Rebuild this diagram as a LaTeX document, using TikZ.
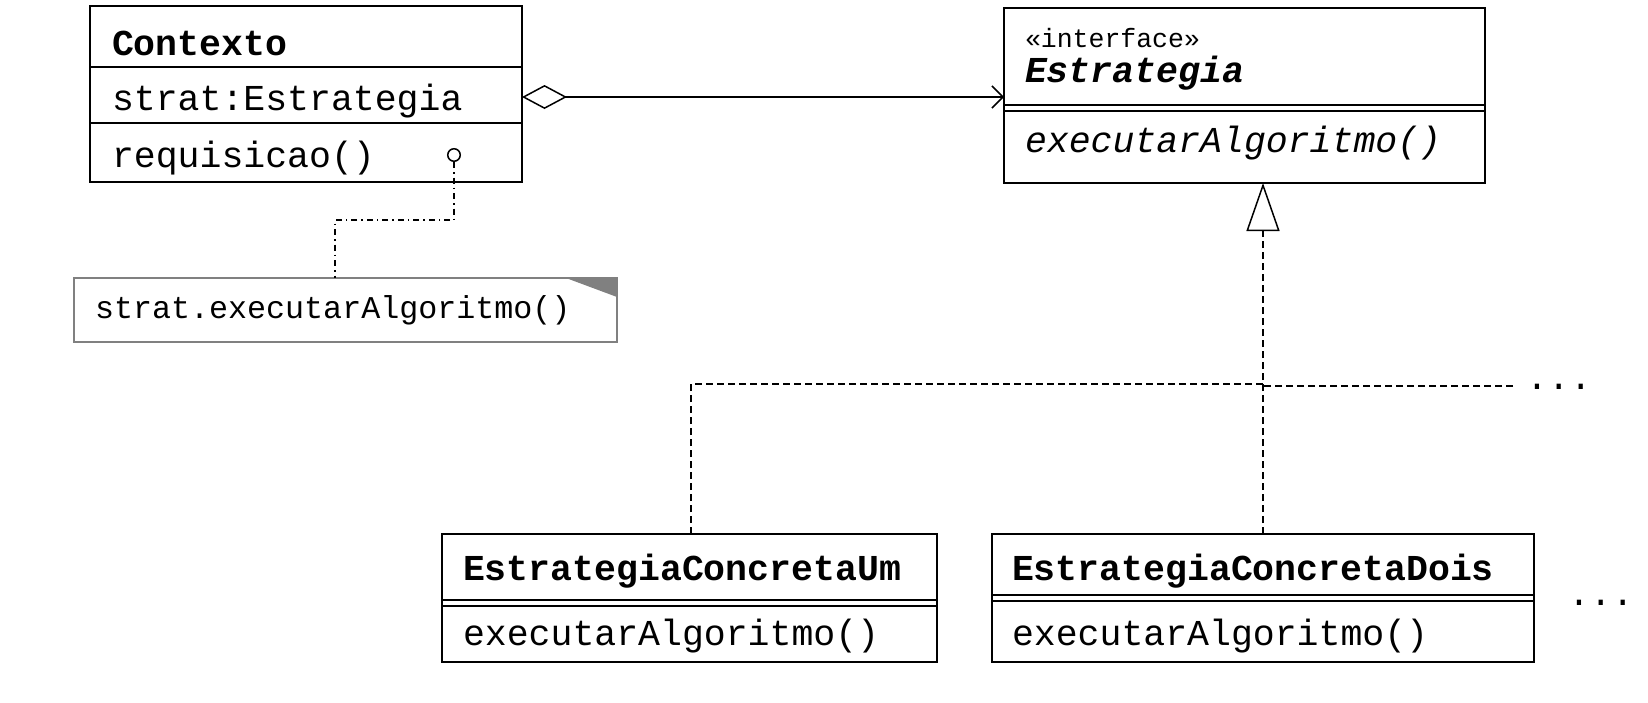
\documentclass[tikz,border=0pt]{standalone}
\usepackage{fontspec}
\setmonofont{Liberation Mono}
\usetikzlibrary{arrows.meta}
\begin{document}
\begin{tikzpicture}[x=1pt,y=-1pt,
  box/.style={draw, line width=1.8pt, inner sep=0pt, outer sep=0pt, anchor=north west},
  txt/.style={inner sep=0pt, outer sep=0pt, anchor=base west, font=\ttfamily\fontsize{36.5}{40}\selectfont},
  smalltxt/.style={inner sep=0pt, outer sep=0pt, anchor=base west, font=\ttfamily\fontsize{26.5}{30}\selectfont},
  notetxt/.style={inner sep=0pt, outer sep=0pt, anchor=base west, font=\ttfamily\fontsize{31.7}{35}\selectfont},
  sep/.style={line width=1.5pt},
  dbl/.style={line width=2.2pt},
  realize/.style={line width=1.5pt, dash pattern=on 7pt off 4pt},
  anchorline/.style={line width=1.5pt, dash pattern=on 6pt off 4pt on 1.5pt off 4pt}]
\fill[white] (0,0) rectangle (1648,702);
\useasboundingbox (0,0) rectangle (1648,702);

% Contexto
\node[box, minimum width=432pt, minimum height=176pt] (ctx) at (90,6) {};
\draw[sep] (90,67) -- (522,67);
\draw[sep] (90,123) -- (522,123);
\node[txt] (ctxname) at (112,55) {\bfseries Contexto};
\node[txt] (ctxattr) at (112,110) {strat:Estrategia};
\node[txt] (ctxop) at (112,167) {requisicao()};
\node[draw, circle, line width=1.5pt, minimum size=12.5pt, inner sep=0pt] (ctxcirc) at (454,155) {};

% Estrategia
\node[box, minimum width=481pt, minimum height=175pt] (estr) at (1004,8) {};
\draw[dbl] (1004,105) -- (1485,105);
\draw[dbl] (1004,111) -- (1485,111);
\node[smalltxt] (estrst) at (1025,47) {«interface»};
\node[txt] (estrname) at (1025,82) {\bfseries\itshape Estrategia};
\node[txt] (estrop) at (1025,152) {\itshape executarAlgoritmo()};

% Note
\node[box, draw=black!50, fill=white, line width=1.5pt, minimum width=543pt, minimum height=64pt] (note) at (74,278) {};
\fill[black!50] (566,278) -- (617,278) -- (617,297) -- cycle;
\node[notetxt] (notetext) at (95,318) {strat.executarAlgoritmo()};

% Concrete strategies
\node[box, minimum width=495pt, minimum height=128pt] (um) at (442,534) {};
\draw[dbl] (442,600) -- (937,600);
\draw[dbl] (442,606) -- (937,606);
\node[txt] (umname) at (463,580) {\bfseries EstrategiaConcretaUm};
\node[txt] (umop) at (463,645) {executarAlgoritmo()};

\node[box, minimum width=542pt, minimum height=128pt] (dois) at (992,534) {};
\draw[dbl] (992,595) -- (1534,595);
\draw[dbl] (992,601) -- (1534,601);
\node[txt] (doisname) at (1012,580) {\bfseries EstrategiaConcretaDois};
\node[txt] (doisop) at (1012,645) {executarAlgoritmo()};

\node[txt] (dotsA) at (1526,389) {...};
\node[txt] (dotsB) at (1568,605) {...};

% Connectors
\coordinate (aggA) at (522,97);
\coordinate (aggB) at (1004,97);
\draw[line width=1.5pt, {Diamond[open,length=45pt,width=24pt]}-{Straight Barb[length=11pt,width=22pt]}] (aggA) -- (aggB);

\coordinate (notejoin) at (335,278);
\draw[anchorline] (ctxcirc.south) |- (335,220) -- (notejoin);

\coordinate (umtop) at (691,534);
\coordinate (junc) at (1263,384);
\coordinate (doistop) at (1263,534);
\coordinate (estrtip) at (1263,183);
\coordinate (dotsend) at (1513,386);
\coordinate (juncB) at (1263,386);
\draw[realize] (umtop) |- (junc);
\draw[realize, -{Triangle[open,length=48pt,width=33pt]}] (doistop) -- (estrtip);
\draw[realize] (dotsend) -- (juncB);
\end{tikzpicture}
\end{document}
